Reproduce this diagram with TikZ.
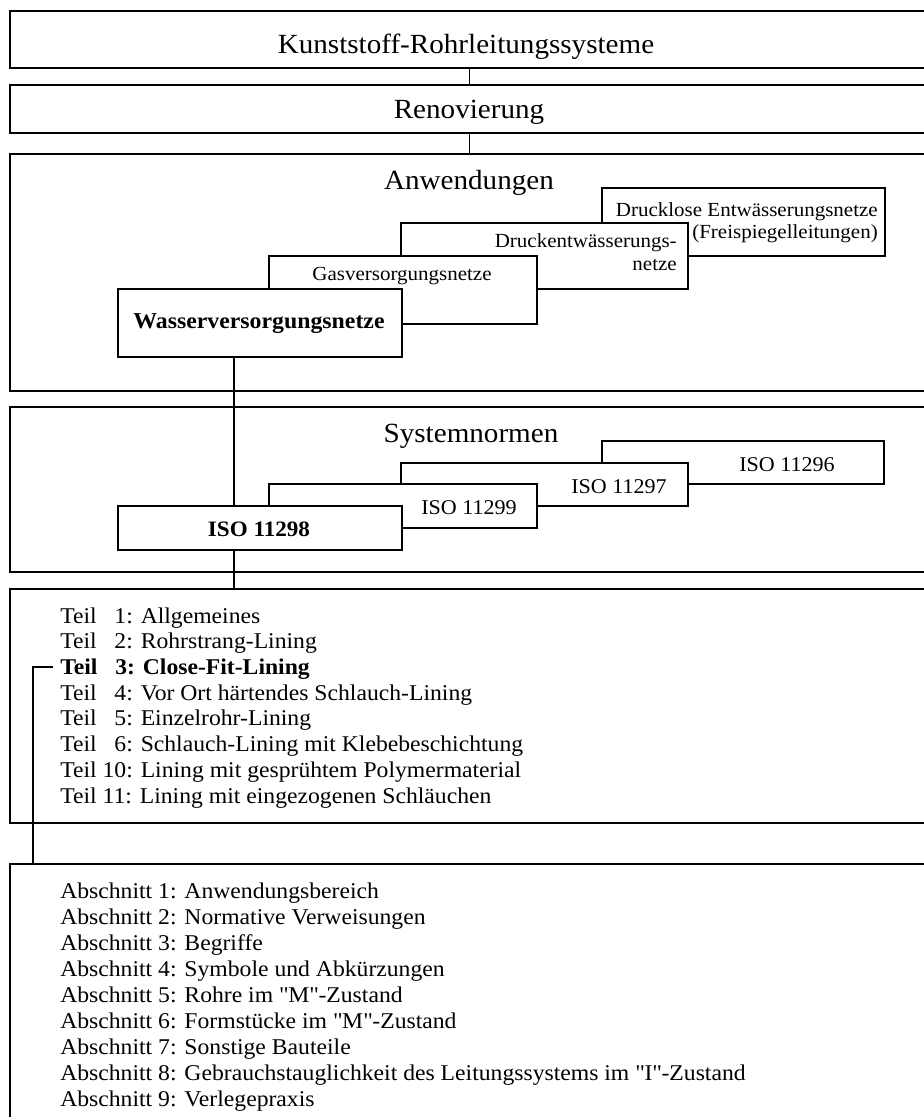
\documentclass[tikz,border=0pt]{standalone}
\usepackage{fontspec}
\setmainfont{Liberation Serif}[FakeStretch=1.05]
\begin{document}
\begin{tikzpicture}[x=0.75pt,y=-0.75pt,
  sz/.style 2 args={minimum width=#1*0.75pt, minimum height=#2*0.75pt},
  outer/.style={draw, line width=1.4pt, fill=white, inner sep=0pt},
  sbox/.style={draw, line width=0.8pt, fill=white, inner sep=0pt},
  tbox/.style={draw, line width=2pt, fill=white, inner sep=0pt},
  hdr/.style={inner sep=0pt, anchor=base, font=\fontsize{20.8pt}{24pt}\selectfont},
  lbl/.style={inner sep=0pt, font=\fontsize{15pt}{18pt}\selectfont},
  iso/.style={inner sep=0pt, font=\fontsize{15.75pt}{18pt}\selectfont},
  item/.style={inner sep=0pt, anchor=base west, font=\fontsize{16.9pt}{20pt}\selectfont},
  conn/.style={line width=1.5pt},
  thinconn/.style={line width=1.1pt}]
\useasboundingbox (0,0) rectangle (924,1117);
\clip (0,0) rectangle (924,1117);

% outer boxes
\node[outer, sz={919}{57}]  (b1) at (469.5,39.5) {};
\node[outer, sz={919}{48}]  (b2) at (469.5,109) {};
\node[outer, sz={919}{237}] (b3) at (469.5,272.5) {};
\node[outer, sz={919}{165}] (b4) at (469.5,489.5) {};
\node[outer, sz={919}{234}] (b5) at (469.5,706) {};
\node[outer, sz={919}{266}] (b6) at (469.5,997) {};

% headers
\node[hdr] (h1) at (466,53) {Kunststoff-Rohrleitungssysteme};
\node[hdr] (h2) at (469,118) {Renovierung};
\node[hdr] (h3) at (469,189) {Anwendungen};
\node[hdr] (h4) at (471,442) {Systemnormen};

% connectors top
\draw[thinconn] (b1.south) -- (b2.north);
\draw[thinconn] (b2.south) -- (b3.north);

% application boxes
\node[sbox, sz={283}{68}] (d1) at (743.5,222) {};
\node[lbl, anchor=base east] (d1a) at (878,216) {Drucklose Entwässerungsnetze};
\node[lbl, anchor=base east] (d1b) at (878,238) {(Freispiegelleitungen)};
\node[sbox, sz={287}{66}] (d2) at (544.5,256) {};
\node[lbl, anchor=base east] (d2a) at (677,247) {Druckentwässerungs-};
\node[lbl, anchor=base east] (d2b) at (677,270) {netze};
\node[sbox, sz={268}{68}] (d3) at (403,290) {};
\node[lbl, anchor=base] (d3a) at (402,280) {Gasversorgungsnetze};
\node[tbox, sz={284}{68}] (d4) at (260,323) {};
\node[iso, anchor=base, font=\fontsize{17pt}{20pt}\selectfont\bfseries] (d4a) at (259,328) {Wasserversorgungsnetze};

% ISO boxes
\node[sbox, sz={282}{43}] (i1) at (743,462.5) {};
\node[iso, anchor=base east] (i1a) at (835,471) {ISO 11296};
\node[sbox, sz={287}{43}] (i2) at (544.5,484.5) {};
\node[iso, anchor=base east] (i2a) at (667,493) {ISO 11297};
\node[sbox, sz={268}{44}] (i3) at (403,506) {};
\node[iso, anchor=base east] (i3a) at (517,514) {ISO 11299};
\node[tbox, sz={284}{44}] (i4) at (260,528) {};
\node[iso, anchor=base, font=\fontsize{16.5pt}{20pt}\selectfont\bfseries] (i4a) at (259,536) {ISO 11298};

% main vertical connector
\coordinate (cx) at (234,0);
\draw[conn] (d4.south -| cx) -- (i4.north -| cx);
\draw[conn] (i4.south -| cx) -- (b5.north -| cx);

% Teil list
\node[item] (t1) at (60,623) {Teil \phantom{0}1: Allgemeines};
\node[item] (t2) at (60,648.7) {Teil \phantom{0}2: Rohrstrang-Lining};
\node[item, font=\fontsize{16.9pt}{20pt}\selectfont\bfseries] (t3) at (60,674.4) {Teil \phantom{0}3: Close-Fit-Lining};
\node[item] (t4) at (60,700.1) {Teil \phantom{0}4: Vor Ort härtendes Schlauch-Lining};
\node[item] (t5) at (60,725.8) {Teil \phantom{0}5: Einzelrohr-Lining};
\node[item] (t6) at (60,751.5) {Teil \phantom{0}6: Schlauch-Lining mit Klebebeschichtung};
\node[item] (t7) at (60,777.2) {Teil 10: Lining mit gesprühtem Polymermaterial};
\node[item] (t8) at (60,803) {Teil 11: Lining mit eingezogenen Schläuchen};

% bracket
\coordinate (bx) at (33,0);
\draw[conn] ([xshift=-5.25pt, yshift=1.5pt]t3.west) -| (b6.north -| bx);

% Abschnitt list
\node[item] (a1) at (60,898) {Abschnitt 1: Anwendungsbereich};
\node[item] (a2) at (60,924) {Abschnitt 2: Normative Verweisungen};
\node[item] (a3) at (60,950) {Abschnitt 3: Begriffe};
\node[item] (a4) at (60,976) {Abschnitt 4: Symbole und Abkürzungen};
\node[item] (a5) at (60,1002) {Abschnitt 5: Rohre im \textquotedbl M\textquotedbl-Zustand};
\node[item] (a6) at (60,1028) {Abschnitt 6: Formstücke im \textquotedbl M\textquotedbl-Zustand};
\node[item] (a7) at (60,1054) {Abschnitt 7: Sonstige Bauteile};
\node[item] (a8) at (60,1080) {Abschnitt 8: Gebrauchstauglichkeit des Leitungssystems im \textquotedbl I\textquotedbl-Zustand};
\node[item] (a9) at (60,1106) {Abschnitt 9: Verlegepraxis};
\end{tikzpicture}
\end{document}
